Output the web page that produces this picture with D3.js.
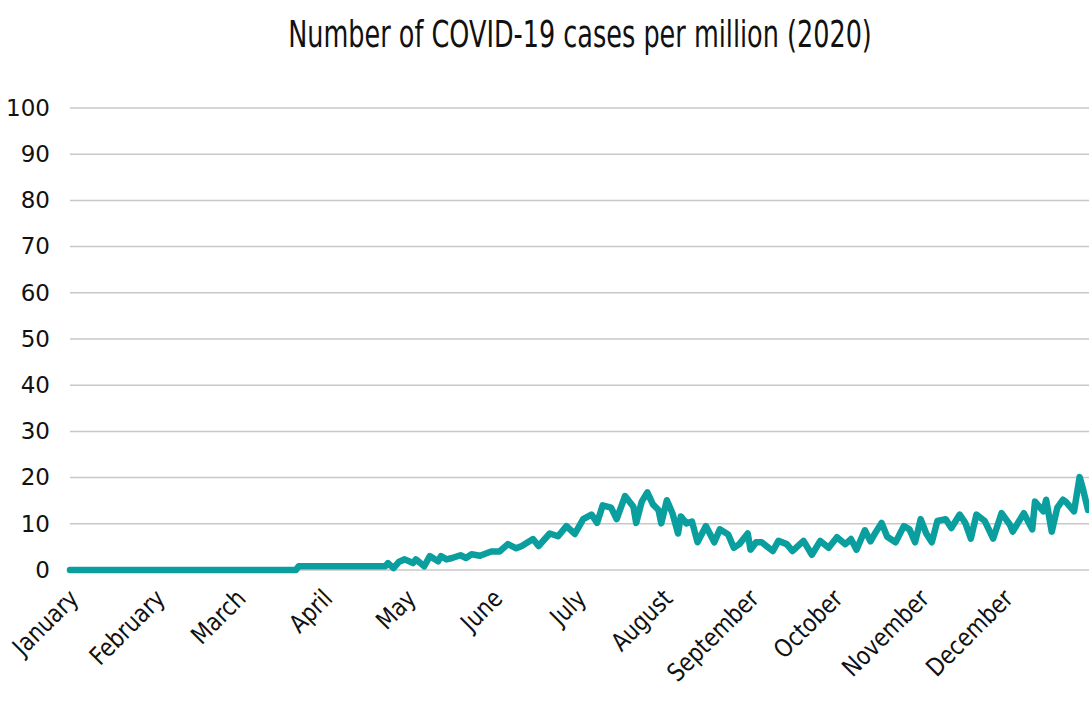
<!DOCTYPE html>
<html>
<head>
<meta charset="utf-8">
<script src="https://cdn.jsdelivr.net/npm/d3@7"></script>
<style>
  html, body { margin: 0; padding: 0; background: #fff; }
  svg { display: block; }
  text { font-family: "DejaVu Sans", "Open Sans", sans-serif; fill: #111; }
</style>
</head>
<body>
<svg id="chart" width="1089" height="704"></svg>
<script>
// ---- data ----
const title = "Number of COVID-19 cases per million (2020)";
const monthLabels = ["January","February","March","April","May","June","July","August","September","October","November","December"];
const monthStartDays = [0,31,60,91,121,152,182,213,244,274,305,335];
const yTicks = [0,10,20,30,40,50,60,70,80,90,100];
// day of year (0 = 1 January 2020) and cases per million
const days = [0,81,82,113,114,116,118,120,123,124,127,129,132,133,135,137,140,142,144,147,
  151,154,157,160,162,166,168,172,175,178,181,184,187,189,191,194,196,199,202,203,
  205,207,209,211,212,214,216,218,219,221,223,225,228,231,233,236,238,240,243,244,
  246,248,252,254,257,259,263,266,269,272,275,278,280,282,285,287,289,291,293,296,
  299,301,303,305,307,309,311,314,316,319,321,323,325,328,331,334,337,338,342,345,
  346,349,350,352,354,356,357,360,362,363,365];
const cases = [0,0,0.8,0.8,1.5,0.4,1.8,2.3,1.5,2.3,0.8,3,1.9,3,2.3,2.6,3.2,2.6,3.4,3.1,
  4,4,5.6,4.7,5.2,6.7,5.2,7.9,7.3,9.5,7.8,11,12,10.2,14,13.5,11,16,13.7,10.2,
  14.8,16.8,14.2,13,10.1,15.1,12.3,7.9,11.6,10.1,10.5,6,9.5,6,8.8,7.7,4.8,5.6,7.9,4.4,
  6,6,4.1,6.3,5.6,4.1,6.3,3.3,6.3,4.8,7.1,5.6,6.7,4.4,8.6,6.2,8.3,10.2,7.2,6,
  9.5,8.8,6,11,7.9,6,10.6,11,9.1,12,10.2,6.8,12,10.6,6.8,12.3,9.8,8.3,12.3,8.8,
  14.8,12.7,15.2,8.3,13.5,15.2,14.8,12.7,20.1,18,13];

// ---- chart ----
const svg = d3.select("#chart");
const x = d3.scaleLinear().domain([0, 365]).range([70, 1088]);
const y = d3.scaleLinear().domain([0, 100]).range([570, 108]);

svg.append("text")
  .attr("transform", "translate(580,47) scale(0.69,1)")
  .attr("text-anchor", "middle")
  .style("font-size", "37px")
  .text(title);

// gridlines
svg.append("g")
  .selectAll("line").data(yTicks).join("line")
  .attr("x1", 70).attr("x2", 1089)
  .attr("y1", d => y(d)).attr("y2", d => y(d))
  .attr("stroke", "#c8c8c8").attr("stroke-width", 1.5);

// y axis labels
const yAxis = d3.axisLeft(y).tickValues(yTicks).tickSize(0).tickPadding(0);
const gy = svg.append("g").attr("transform", "translate(50,0)").call(yAxis);
gy.select(".domain").remove();
gy.selectAll("text")
  .style("font-size", "23px")
  .style("font-family", "'DejaVu Sans', sans-serif")
  .attr("fill", "#111");

// x axis labels
const xAxis = d3.axisBottom(x).tickValues(monthStartDays)
  .tickFormat((d, i) => monthLabels[i]).tickSize(0).tickPadding(0);
const gx = svg.append("g").call(xAxis);
gx.select(".domain").remove();
gx.selectAll(".tick").attr("transform", d => `translate(${x(d) + 10},600)`);
gx.selectAll("text")
  .attr("y", 0).attr("dy", 0).attr("x", 0)
  .attr("text-anchor", "end")
  .attr("transform", "rotate(-45) scale(0.85,1)")
  .style("font-size", "25px")
  .style("font-family", "'DejaVu Sans', sans-serif")
  .attr("fill", "#111");

// line
const pts = days.map((d, i) => [d, cases[i]]);
const line = d3.line().x(d => x(d[0])).y(d => y(d[1]));
svg.append("path")
  .datum(pts)
  .attr("d", line)
  .attr("fill", "none")
  .attr("stroke", "#0a9e9e")
  .attr("stroke-width", 6.5)
  .attr("stroke-linejoin", "round")
  .attr("stroke-linecap", "round");
</script>
</body>
</html>
